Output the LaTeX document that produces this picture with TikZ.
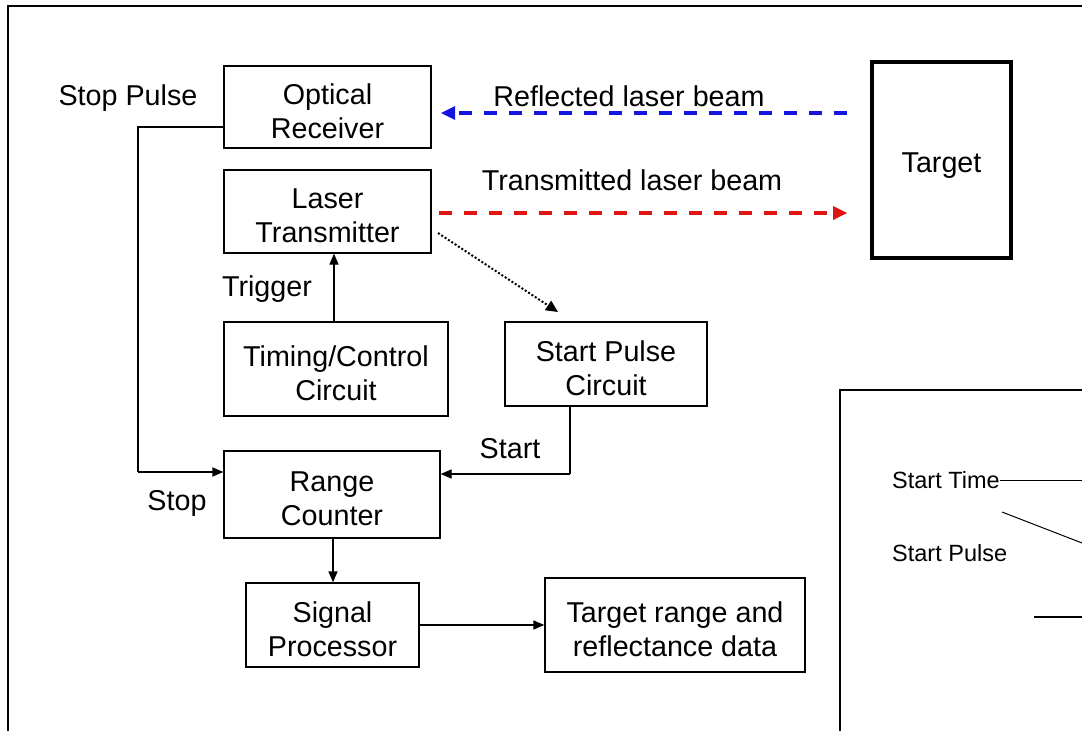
\documentclass[tikz,border=0pt]{standalone}
\usepackage{fontspec}
\setmainfont{Liberation Sans}
\usetikzlibrary{arrows.meta}
\definecolor{beamblue}{RGB}{20,20,225}
\definecolor{beamred}{RGB}{225,20,20}
\newcommand\topstrut[1]{\rule{0pt}{#1}}
\begin{document}
\begin{tikzpicture}[x=1pt,y=-1pt,
  every node/.style={font=\fontsize{28.7}{34}\selectfont},
  blk/.style={draw,line width=1.3pt,inner sep=0pt,align=center},
  arr/.style={line width=1.3pt,-{Triangle[length=11pt,width=9pt]}},
  wire/.style={line width=1.3pt},
  beam/.style={line width=3.4pt,dash pattern=on 13pt off 12pt},
  small/.style={font=\fontsize{23.5}{28}\selectfont,inner sep=0pt}]
\useasboundingbox (0,0) rectangle (1082,731);
\clip (0,0) rectangle (1082,731);
\fill[white] (0,0) rectangle (1082,731);
% outer frame
\draw[line width=1.3pt] (1100,6) -- (8,6) -- (8,760);
% blocks
\node[blk,minimum width=207pt,minimum height=82pt] (OR) at (327.5,107) {\topstrut{29pt}Optical\\Receiver};
\node[blk,minimum width=207pt,minimum height=83pt] (LT) at (327.5,211.5) {\topstrut{29pt}Laser\\Transmitter};
\node[blk,minimum width=224pt,minimum height=94pt] (TC) at (336,369) {\topstrut{29pt}Timing/Control\\Circuit};
\node[blk,minimum width=202pt,minimum height=84pt] (SP) at (606,364) {\topstrut{29pt}Start Pulse\\Circuit};
\node[blk,minimum width=216pt,minimum height=87pt] (RC) at (332,494.5) {\topstrut{29pt}Range\\Counter};
\node[blk,minimum width=173pt,minimum height=84pt] (SG) at (332.5,625) {\topstrut{29pt}Signal\\Processor};
\node[blk,minimum width=260pt,minimum height=94pt] (DT) at (675,625) {\topstrut{29pt}Target range and\\reflectance data};
\node[blk,line width=3.4pt,minimum width=139pt,minimum height=196pt] (TG) at (941.5,160) {\topstrut{31pt}Target};
% labels
\node (lstop) at (128,98) {Stop Pulse};
\node (lrefl) at (629,96) {Reflected laser beam};
\node (ltran) at (632,180) {Transmitted laser beam};
\node (ltrig) at (267,289) {Trigger};
\node (lstart) at (510,449) {Start};
\node (lstp) at (177,503) {Stop};
% stop pulse wire
\coordinate (s1) at (138,127);
\coordinate (s2) at (138,472);
\draw[wire] (OR.west |- s1) -- (s1) -- (s2);
\draw[arr] (s2) -- (s2 -| RC.west);
% start wire
\coordinate (st) at (570,474);
\draw[wire] (SP.south -| st) -- (st);
\draw[arr] (st) -- (st -| RC.east);
% trigger
\coordinate (tr) at (334,0);
\draw[arr] (tr |- TC.north) -- (tr |- LT.south);
% range -> signal
\coordinate (rs) at (333,0);
\draw[arr] (rs |- RC.south) -- (rs |- SG.north);
% signal -> data
\draw[arr] (SG.east) -- (DT.west);
% beams
\coordinate (b1) at (847,113);
\coordinate (b2) at (441,113);
\draw[beam,beamblue] (b1) -- ([xshift=10pt]b2);
\fill[beamblue] (b2) -- ++(14,-7) -- ++(0,14) -- cycle;
\coordinate (r1) at (439,213);
\coordinate (r2) at (847,213);
\draw[beam,beamred] (r1) -- ([xshift=-10pt]r2);
\fill[beamred] (r2) -- ++(-14,-7) -- ++(0,14) -- cycle;
% dotted
\coordinate (d1) at (438,233);
\coordinate (d2) at (558,312);
\draw[line width=2pt,dotted,-{Triangle[length=12pt,width=11pt]}] (d1) -- (d2);
% right inset box
\draw[line width=1.3pt] (1100,390) -- (840,390) -- (840,760);
\node[small,anchor=west] (stt) at (892,480) {Start Time};
\coordinate (stte) at (1090,480);
\draw[line width=1pt] (stt.east) -- (stte);
\coordinate (g1) at (1002,512);
\coordinate (g2) at (1102,550.75);
\draw[line width=1pt] (g1) -- (g2);
\node[small,anchor=west] (stp) at (892,553) {Start Pulse};
\coordinate (h1) at (1034,617);
\coordinate (h2) at (1090,617);
\draw[line width=2.6pt] (h1) -- (h2);
\end{tikzpicture}
\end{document}
